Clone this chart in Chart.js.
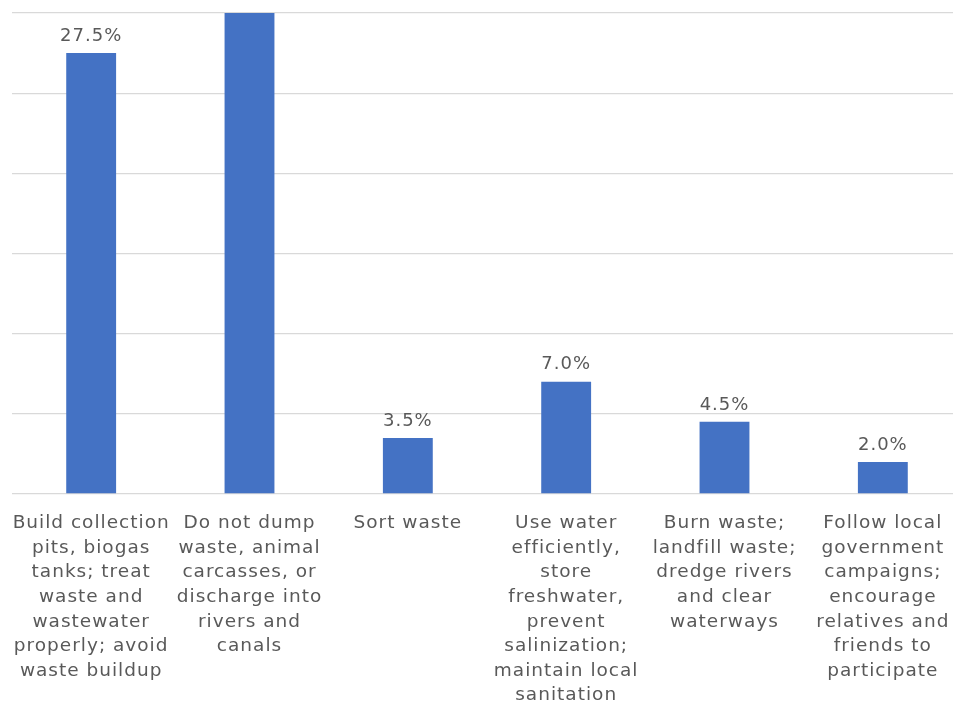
<!DOCTYPE html>
<html>
<head>
<meta charset="utf-8">
<script src="https://cdn.jsdelivr.net/npm/chart.js@4.4.1/dist/chart.umd.min.js"></script>
<style>
  html, body { margin: 0; padding: 0; background: #ffffff; overflow: hidden; }
  canvas { display: block; }
</style>
</head>
<body>
<canvas id="actions" width="965" height="702"></canvas>
<script>
// survey answers, one line per row of the wrapped axis label
const categories = [
  ["Build collection", "pits, biogas", "tanks; treat", "waste and", "wastewater", "properly; avoid", "waste buildup"],
  ["Do not dump", "waste, animal", "carcasses, or", "discharge into", "rivers and", "canals"],
  ["Sort waste"],
  ["Use water", "efficiently,", "store", "freshwater,", "prevent", "salinization;", "maintain local", "sanitation"],
  ["Burn waste;", "landfill waste;", "dredge rivers", "and clear", "waterways"],
  ["Follow local", "government", "campaigns;", "encourage", "relatives and", "friends to", "participate"]
];
const shares = [27.5, 55.5, 3.5, 7.0, 4.5, 2.0];
const yTicks = [0, 5, 10, 15, 20, 25, 30];

const textGrey = '#595959';
const fontFamily = '"DejaVu Sans", sans-serif';

// slightly open letter spacing for all chart text
const spacing = {
  id: 'spacing',
  beforeInit(chart) { chart.ctx.letterSpacing = '1px'; },
  beforeDraw(chart) { chart.ctx.letterSpacing = '1px'; }
};

// percent labels above the bars (skipped when the bar runs off the top)
const valueLabels = {
  id: 'valueLabels',
  afterDatasetsDraw(chart) {
    const ctx = chart.ctx;
    const area = chart.chartArea;
    const meta = chart.getDatasetMeta(0);
    ctx.save();
    ctx.font = '18px ' + fontFamily;
    ctx.fillStyle = textGrey;
    ctx.textAlign = 'center';
    ctx.textBaseline = 'middle';
    meta.data.forEach((bar, i) => {
      if (bar.y < area.top + 5) return;
      ctx.fillText(shares[i].toFixed(1) + '%', bar.x, bar.y - 17);
    });
    ctx.restore();
  }
};

new Chart(document.getElementById('actions').getContext('2d'), {
  type: 'bar',
  data: {
    labels: categories,
    datasets: [{
      data: shares,
      backgroundColor: '#4472C4',
      borderWidth: 0,
      barPercentage: 0.63,
      categoryPercentage: 0.5
    }]
  },
  options: {
    responsive: false,
    animation: false,
    layout: { padding: { top: 13, left: 12, right: 3, bottom: 0 } },
    plugins: {
      legend: { display: false },
      tooltip: { enabled: false }
    },
    scales: {
      x: {
        grid: { display: false },
        border: { display: false },
        ticks: {
          color: textGrey,
          font: { family: fontFamily, size: 18.5, lineHeight: 1.33 },
          maxRotation: 0,
          autoSkip: false,
          padding: 9
        },
        afterFit(scale) { scale.height = 208; }
      },
      y: {
        min: 0,
        max: 30,
        afterBuildTicks(scale) { scale.ticks = yTicks.map(v => ({ value: v })); },
        ticks: { display: false },
        grid: { color: '#d9d9d9', lineWidth: 1.3, drawTicks: false },
        border: { display: false }
      }
    }
  },
  plugins: [spacing, valueLabels]
});
</script>
</body>
</html>
